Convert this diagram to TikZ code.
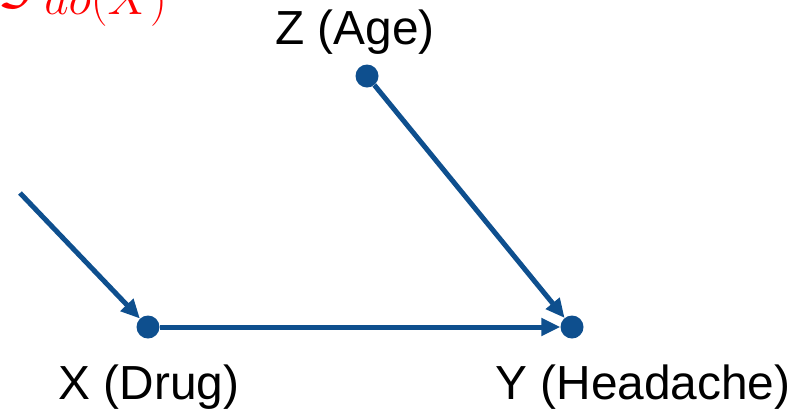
\RequirePackage{fix-cm}
\documentclass[tikz,border=0pt]{standalone}
\usepackage{fontspec}
\setmainfont{Liberation Sans}
\usetikzlibrary{arrows.meta}
\definecolor{dagblue}{RGB}{14,79,142}
\tikzset{
  vert/.style={circle,fill=dagblue,inner sep=0pt,minimum size=23bp},
  edge/.style={draw=dagblue,line width=5bp,-{Triangle[length=19bp,width=17bp]}},
  lab/.style={inner sep=0pt,anchor=base,font=\fontsize{48}{56}\selectfont}
}
\begin{document}
\begin{tikzpicture}[x=1bp,y=-1bp]
\useasboundingbox (0,0) rectangle (802,413);
\clip (0,0) rectangle (802,413);
\node[inner sep=0pt,anchor=base east,text=red,font=\fontsize{68}{80}\selectfont] (title) at (167,14) {\raisebox{13bp}{$\mathcal{G}$}\hspace{2bp}$\scriptstyle do(X)$};
\node[vert] (Z) at (367,76) {};
\node[vert] (X) at (148,327) {};
\node[vert] (Y) at (572,327) {};
\coordinate (in) at (20,193);
\draw[edge] (in) -- (X);
\draw[edge] (X) -- (Y);
\draw[edge] (Z) -- (Y);
\node[lab] (lz) at (355,44) {Z (Age)};
\node[lab] (lx) at (149,399) {X (Drug)};
\node[lab] (ly) at (643,399) {Y (Headache)};
\end{tikzpicture}
\end{document}
